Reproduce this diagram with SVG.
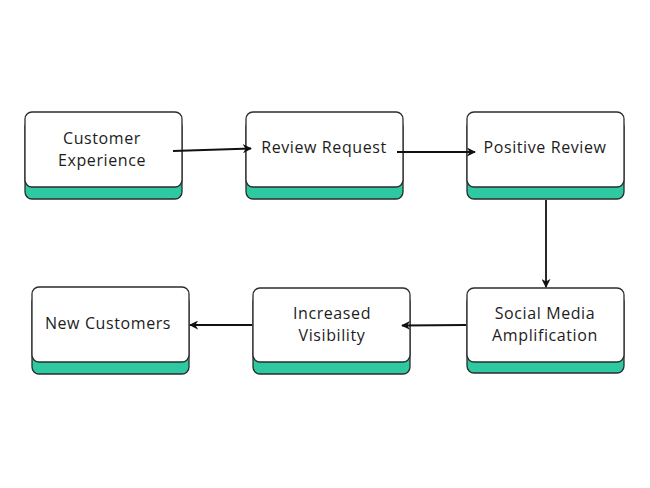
<svg xmlns="http://www.w3.org/2000/svg" width="650" height="488" viewBox="0 0 650 488">
<defs>
<style>
.base{fill:#2ec9a1;stroke:#2b2b2b;stroke-width:1.3}
.top{fill:#ffffff;stroke:#2b2b2b;stroke-width:1.3}
.t{font-family:"Open Sans","Noto Sans",sans-serif;font-size:16px;letter-spacing:0.6px;fill:#1c1c1c;text-anchor:middle}
.c{stroke:#111;stroke-width:1.8;fill:none;marker-end:url(#ah)}
</style>
<marker id="ah" viewBox="0 0 10 10" refX="9" refY="5" markerWidth="5" markerHeight="5" orient="auto" markerUnits="strokeWidth">
<path d="M0,0 L10,5 L0,10 L3,5 Z" fill="#111"/>
</marker>
</defs>
<rect width="650" height="488" fill="#ffffff"/>
<g id="n1">
<rect class="base" x="25" y="120" width="157" height="79" rx="7"/>
<rect class="top" x="25" y="112" width="157" height="75" rx="7"/>
<text class="t" x="102" y="144">Customer</text>
<text class="t" x="102" y="166">Experience</text>
</g>
<g id="n2">
<rect class="base" x="246" y="120" width="157" height="79" rx="7"/>
<rect class="top" x="246" y="112" width="157" height="75" rx="7"/>
<text class="t" x="324" y="153">Review Request</text>
</g>
<g id="n3">
<rect class="base" x="467" y="120" width="157" height="79" rx="7"/>
<rect class="top" x="467" y="112" width="157" height="75" rx="7"/>
<text class="t" x="545" y="153">Positive Review</text>
</g>
<g id="n4">
<rect class="base" x="467" y="295" width="157" height="78" rx="7"/>
<rect class="top" x="467" y="288" width="157" height="74" rx="7"/>
<text class="t" x="545" y="319">Social Media</text>
<text class="t" x="545" y="341">Amplification</text>
</g>
<g id="n5">
<rect class="base" x="253" y="295" width="157" height="79" rx="7"/>
<rect class="top" x="253" y="288" width="157" height="74" rx="7"/>
<text class="t" x="332" y="319">Increased</text>
<text class="t" x="332" y="341">Visibility</text>
</g>
<g id="n6">
<rect class="base" x="32" y="295" width="157" height="79" rx="7"/>
<rect class="top" x="32" y="287" width="157" height="75" rx="7"/>
<text class="t" x="108" y="329">New Customers</text>
</g>
<g id="connectors">
<line class="c" x1="173" y1="151" x2="251" y2="148.5"/>
<line class="c" x1="397" y1="152" x2="475" y2="152"/>
<line class="c" x1="546" y1="200" x2="546" y2="287"/>
<line class="c" x1="466" y1="325" x2="402" y2="325.5"/>
<line class="c" x1="252" y1="325" x2="190" y2="325"/>
</g>
</svg>
